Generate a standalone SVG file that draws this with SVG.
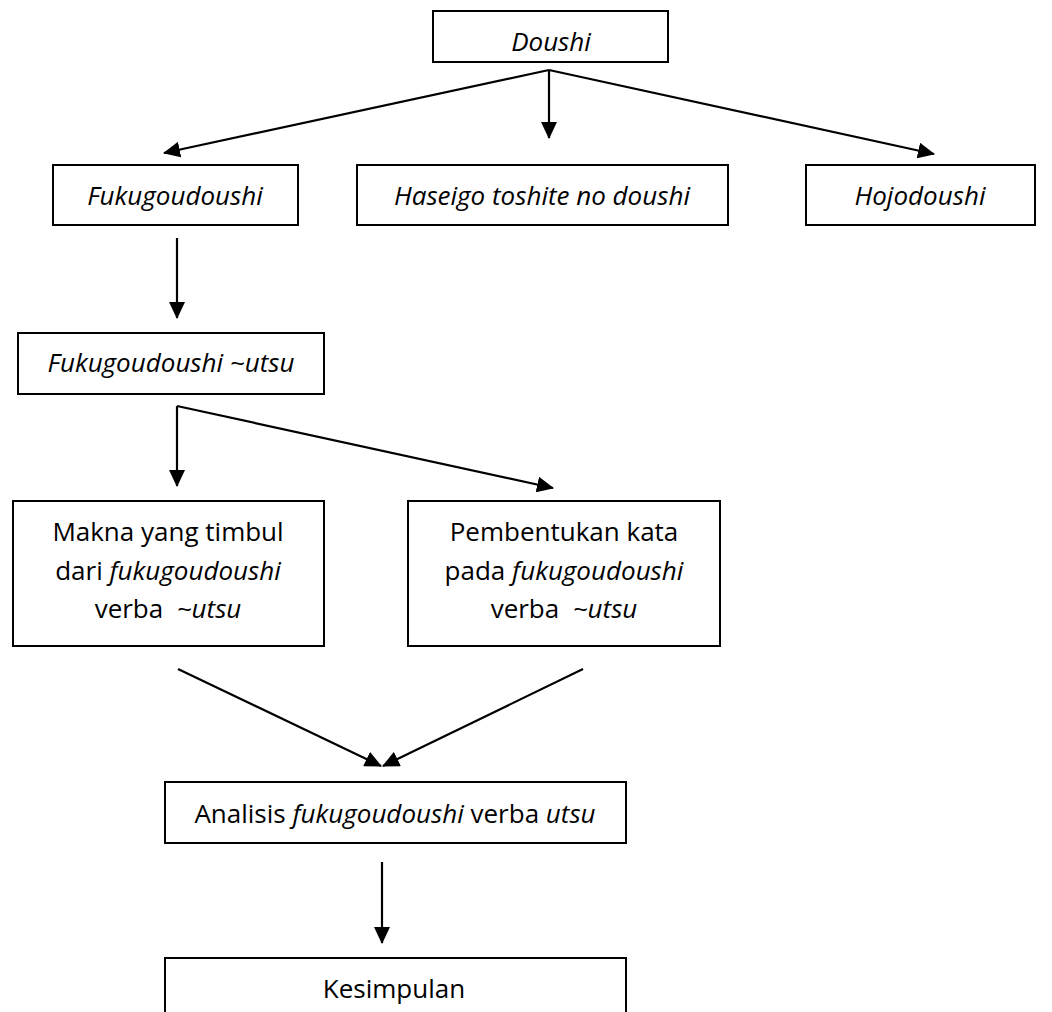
<svg xmlns="http://www.w3.org/2000/svg" width="1052" height="1012" viewBox="0 0 1052 1012">
<style>
.box{fill:#fff;stroke:#000;stroke-width:2}
.t{font-family:"Open Sans","Noto Sans",sans-serif;font-size:26px;fill:#000;text-anchor:middle}
.i{font-style:italic}
.c{stroke:#000;stroke-width:2.2;fill:none}
</style>
<defs>
<marker id="ah" markerUnits="userSpaceOnUse" markerWidth="17" markerHeight="16" refX="16" refY="8" orient="auto">
<path d="M0,0 L17,8 L0,16 Z" fill="#000"/>
</marker>
</defs>
<rect width="1052" height="1012" fill="#fff"/>
<g id="connectors">
<line class="c" x1="549" y1="70" x2="164" y2="153" marker-end="url(#ah)"/>
<line class="c" x1="549" y1="70" x2="549" y2="138" marker-end="url(#ah)"/>
<line class="c" x1="549" y1="70" x2="934" y2="154" marker-end="url(#ah)"/>
<line class="c" x1="177" y1="238" x2="177" y2="318" marker-end="url(#ah)"/>
<line class="c" x1="177" y1="406" x2="553" y2="488" marker-end="url(#ah)"/>
<line class="c" x1="177" y1="406" x2="177" y2="486" marker-end="url(#ah)"/>
<line class="c" x1="178" y1="669" x2="381" y2="766" marker-end="url(#ah)"/>
<line class="c" x1="583" y1="669" x2="383" y2="766" marker-end="url(#ah)"/>
<line class="c" x1="382" y1="862" x2="382" y2="943" marker-end="url(#ah)"/>
</g>
<g id="doushi"><rect class="box" x="433" y="11" width="235" height="51"/><text class="t i" x="551" y="51">Doushi</text></g>
<g id="fukugoudoushi"><rect class="box" x="53" y="165" width="245" height="60"/><text class="t i" x="175" y="205">Fukugoudoushi</text></g>
<g id="haseigo"><rect class="box" x="357" y="165" width="371" height="60"/><text class="t i" x="542" y="205">Haseigo toshite no doushi</text></g>
<g id="hojodoushi"><rect class="box" x="806" y="165" width="229" height="60"/><text class="t i" x="920" y="205">Hojodoushi</text></g>
<g id="fukugoudoushi-utsu"><rect class="box" x="18" y="333" width="306" height="61"/><text class="t i" x="171" y="372">Fukugoudoushi ~utsu</text></g>
<g id="makna"><rect class="box" x="13" y="501" width="311" height="145"/>
<text class="t" x="168" y="541">Makna yang timbul</text>
<text class="t" x="168" y="580">dari <tspan class="i">fukugoudoushi</tspan></text>
<text class="t" x="168" y="618" xml:space="preserve">verba  <tspan class="i">~utsu</tspan></text></g>
<g id="pembentukan"><rect class="box" x="408" y="501" width="312" height="145"/>
<text class="t" x="564" y="541">Pembentukan kata</text>
<text class="t" x="564" y="580">pada <tspan class="i">fukugoudoushi</tspan></text>
<text class="t" x="564" y="618" xml:space="preserve">verba  <tspan class="i">~utsu</tspan></text></g>
<g id="analisis"><rect class="box" x="165" y="782" width="461" height="61"/><text class="t" x="395" y="823">Analisis <tspan class="i">fukugoudoushi</tspan> verba <tspan class="i">utsu</tspan></text></g>
<g id="kesimpulan"><rect class="box" x="165" y="958" width="461" height="60"/><text class="t" x="394" y="998">Kesimpulan</text></g>
</svg>
